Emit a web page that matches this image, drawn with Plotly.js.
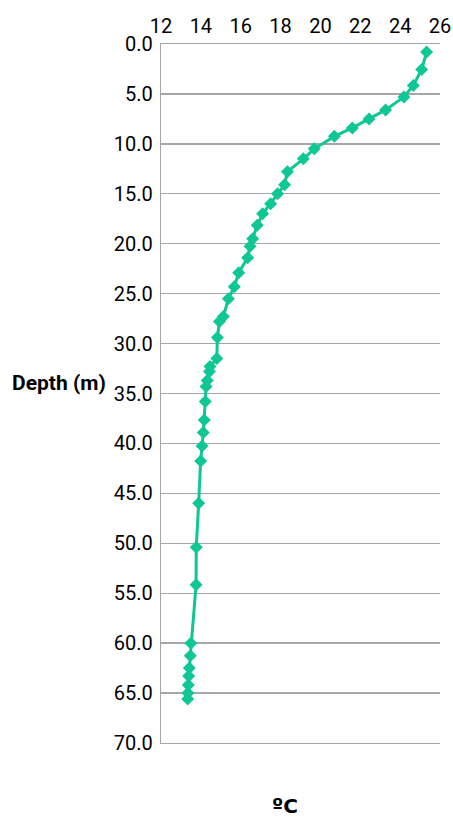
<!DOCTYPE html>
<html><head><meta charset="utf-8">
<script src="https://cdn.plot.ly/plotly-3.0.1.min.js"></script>
<style>html,body{margin:0;padding:0;background:#fff;}#chart{width:453px;height:817px;}</style>
</head><body><div id="chart"></div>
<script>
const temperature = [25.33, 25.08, 24.66, 24.19, 23.27, 22.44, 21.6, 20.7, 19.69, 19.14, 18.34, 18.2, 17.85, 17.5, 17.1, 16.83, 16.6, 16.47, 16.35, 15.9, 15.68, 15.38, 15.13, 14.93, 14.83, 14.8, 14.46, 14.43, 14.32, 14.26, 14.22, 14.17, 14.12, 14.06, 13.99, 13.89, 13.77, 13.76, 13.5, 13.47, 13.42, 13.39, 13.37, 13.35, 13.34];
const depth = [0.8, 2.55, 4.15, 5.3, 6.6, 7.5, 8.4, 9.25, 10.5, 11.5, 12.8, 14.1, 15.0, 16.0, 17.0, 18.15, 19.5, 20.25, 21.4, 22.9, 24.3, 25.5, 27.3, 27.8, 29.4, 31.5, 32.3, 32.8, 33.7, 34.3, 35.8, 37.65, 38.9, 40.25, 41.75, 46.0, 50.4, 54.15, 60.0, 61.25, 62.5, 63.3, 64.2, 65.0, 65.6];
const xTicks = [12, 14, 16, 18, 20, 22, 24, 26];
const yTicks = [0, 5, 10, 15, 20, 25, 30, 35, 40, 45, 50, 55, 60, 65, 70];
const yTickLabels = yTicks.map(v => v.toFixed(1));
const xTitle = 'ºC';
const yTitle = 'Depth (m)';

const fontFam = 'Roboto, "DejaVu Sans", sans-serif';
const grid = '#a6a6a6';
const trace = {
  x: temperature, y: depth, type: 'scatter', mode: 'lines+markers',
  line: {color: '#0fc794', width: 3},
  marker: {symbol: 'diamond', size: 10, color: '#0fc794'},
  hoverinfo: 'skip'
};
const tf = {family: fontFam, size: 20, color: '#000'};
const layout = {
  width: 453, height: 817,
  margin: {l: 161, r: 13, t: 43.5, b: 74},
  paper_bgcolor: '#fff', plot_bgcolor: '#fff',
  showlegend: false,
  font: tf,
  xaxis: {
    side: 'top', range: [12, 26], tickvals: xTicks, ticktext: xTicks.map(String),
    showgrid: false, zeroline: false, showline: true, mirror: true, linecolor: grid, linewidth: 1.3, ticks: '',
    ticklabelstandoff: 2,
    tickfont: tf, fixedrange: true
  },
  yaxis: {
    range: [70, 0], tickvals: yTicks, ticktext: yTickLabels,
    showgrid: true, gridcolor: grid, gridwidth: 1.3,
    zeroline: false, showline: true, linecolor: grid, linewidth: 1.3, ticks: '',
    ticklabelstandoff: 3,
    tickfont: tf, fixedrange: true
  },
  annotations: [
    {text: yTitle, xref: 'paper', yref: 'paper', x: -0.366, y: 0.515, xanchor: 'center', yanchor: 'middle',
     showarrow: false, font: {family: fontFam, size: 21, weight: 'bold', color: '#000'}},
    {text: xTitle, xref: 'paper', yref: 'paper', x: 0.445, y: -0.09, xanchor: 'center', yanchor: 'middle',
     showarrow: false, font: {family: '"DejaVu Sans", sans-serif', size: 20, weight: 'bold', color: '#000'}}
  ]
};
Plotly.newPlot('chart', [trace], layout, {staticPlot: true, displayModeBar: false});
</script></body></html>
